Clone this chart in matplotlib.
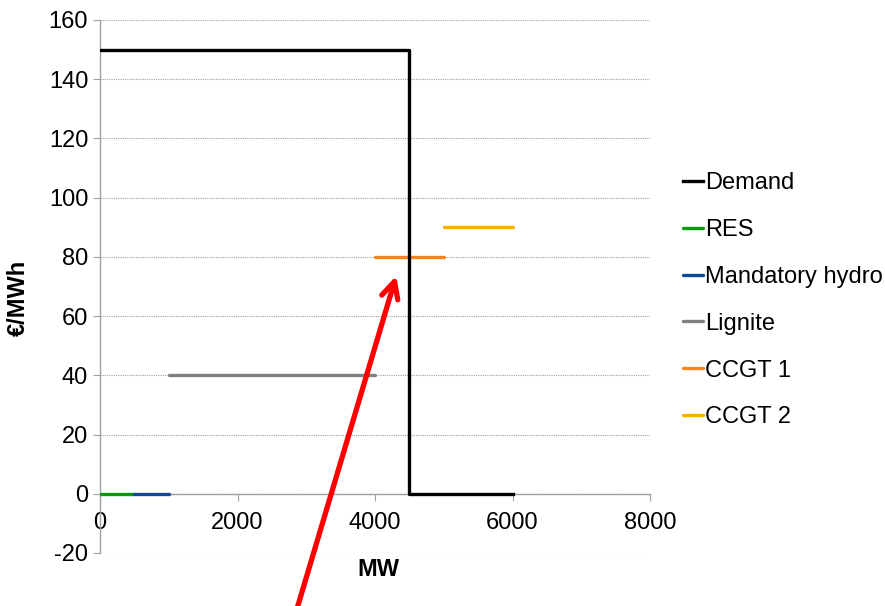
import matplotlib.pyplot as plt

plt.rcParams['font.family'] = ['Liberation Sans', 'DejaVu Sans']
plt.rcParams['axes.unicode_minus'] = False

# merit order data
demand_mw = [0, 4500, 4500, 6000]
demand_price = [150, 150, 0, 0]

plant_names = ["RES", "Mandatory hydro", "Lignite", "CCGT 1", "CCGT 2"]
plant_start = [0, 500, 1000, 4000, 5000]
plant_end = [500, 1000, 4000, 5000, 6000]
plant_price = [0, 0, 40, 80, 90]
plant_colors = ["#0a9a0a", "#0b4a9a", "#808080", "#f7841e", "#ffad00"]

y_ticks = list(range(-20, 161, 20))
x_ticks = [0, 2000, 4000, 6000, 8000]

fs = 17

fig = plt.figure(figsize=(8.85, 6.06), dpi=100)
ax = fig.add_axes([0.113, 0.0875, 0.6215, 0.8795])

ax.plot(demand_mw, demand_price, color="black", lw=2.4, label="Demand", zorder=4)
for name, x0, x1, p, c in zip(plant_names, plant_start, plant_end, plant_price, plant_colors):
    ax.plot([x0, x1], [p, p], color=c, lw=2.4, label=name, solid_capstyle="round", zorder=3)

ax.set_xlim(0, 8000)
ax.set_ylim(-20, 160)
ax.set_yticks(y_ticks)
ax.set_xticks(x_ticks)

# excel-like axes: x axis crosses at y=0
ax.spines['bottom'].set_position(('data', 0))
ax.spines['top'].set_visible(False)
ax.spines['right'].set_visible(False)
for s in ['left', 'bottom']:
    ax.spines[s].set_color("#a0a0a0")
    ax.spines[s].set_linewidth(1.0)
ax.tick_params(axis='both', colors="#a0a0a0", labelcolor="black", labelsize=fs, length=5, direction='out')
ax.tick_params(axis='x', pad=8)
ax.yaxis.grid(True, color="#a0a0a0", linestyle=(0, (1, 1)), linewidth=0.8)
ax.set_axisbelow(True)

fig.text(18 / 885, 1 - 298 / 606, "€/MWh", rotation=90, ha="center", va="center",
         fontsize=fs, fontweight="bold")
fig.text(378 / 885, 1 - 570 / 606, "MW", ha="center", va="center",
         fontsize=fs, fontweight="bold")

ax.legend(loc="center left", bbox_to_anchor=(1.022, 0.474), frameon=False, fontsize=fs,
          handlelength=0.85, handletextpad=0.05, labelspacing=1.05)

ax.annotate("", xy=(4320, 74.5), xytext=(2850, -40), annotation_clip=False,
            arrowprops=dict(arrowstyle="->", color="red", lw=3.8, mutation_scale=30))

fig.savefig("out.png", dpi=100)
